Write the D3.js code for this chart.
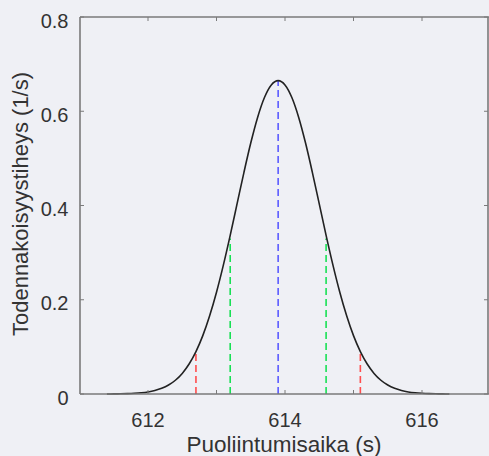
<!DOCTYPE html>
<html>
<head>
<meta charset="utf-8">
<script src="https://cdn.jsdelivr.net/npm/d3@7"></script>
<style>
  html, body { margin: 0; padding: 0; background: #eff0f5; }
  svg { display: block; font-family: "Liberation Sans", Arial, sans-serif; }
</style>
</head>
<body>
<svg id="chart" width="489" height="456"></svg>
<script>
// Curve samples (time in s, density in 1/s)
const curveX = [611.4,611.5,611.6,611.7,611.8,611.9,612.0,612.1,612.2,612.3,612.4,612.5,612.6,612.7,612.8,612.9,613.0,613.1,613.2,613.3,613.4,613.5,613.6,613.7,613.8,613.9,614.0,614.1,614.2,614.3,614.4,614.5,614.6,614.7,614.8,614.9,615.0,615.1,615.2,615.3,615.4,615.5,615.6,615.7,615.8,615.9,616.0,616.1,616.2,616.3,616.4];
const curveY = [0.0001,0.0002,0.0004,0.0008,0.0015,0.0026,0.0044,0.0074,0.0120,0.0190,0.0292,0.0437,0.0636,0.0900,0.1238,0.1659,0.2159,0.2734,0.3367,0.4033,0.4699,0.5325,0.5869,0.6291,0.6558,0.6650,0.6558,0.6291,0.5869,0.5325,0.4699,0.4033,0.3367,0.2734,0.2159,0.1659,0.1238,0.0900,0.0636,0.0437,0.0292,0.0190,0.0120,0.0074,0.0044,0.0026,0.0015,0.0008,0.0004,0.0002,0.0001];

// Dashed marker lines
const markerX = [612.7, 613.2, 613.9, 614.6, 615.1];
const markerY = [0.090, 0.330, 0.665, 0.330, 0.090];
const markerColor = ["#ff4d4d", "#19e055", "#5b5bff", "#19e055", "#ff4d4d"];

const xTicks = [612, 613, 614, 615, 616];
const xTickLabels = ["612", "", "614", "", "616"];
const yTicks = [0, 0.2, 0.4, 0.6, 0.8];
const yTickLabels = ["0", "0.2", "0.4", "0.6", "0.8"];

const xLabel = "Puoliintumisaika (s)";
const yLabel = "Todennakoisyystiheys (1/s)";

const svg = d3.select("#chart");
const pL = 80, pR = 488, pT = 17, pB = 394;

const x = d3.scaleLinear().domain([611, 617]).range([79.5, 490.5]);
const y = d3.scaleLinear().domain([0, 0.8]).range([pB, pT]);

const axisColor = "#7a7a7a";
const textColor = "#333";

// markers
svg.append("g").selectAll("line")
  .data(markerX)
  .join("line")
  .attr("x1", d => x(d)).attr("x2", d => x(d))
  .attr("y1", y(0)).attr("y2", (d, i) => y(markerY[i]))
  .attr("stroke", (d, i) => markerColor[i])
  .attr("stroke-width", 1.6)
  .attr("stroke-dasharray", "7,4");

// curve
const pts = curveX.map((d, i) => [d, curveY[i]]);
svg.append("path")
  .datum(pts)
  .attr("fill", "none")
  .attr("stroke", "#222")
  .attr("stroke-width", 1.6)
  .attr("d", d3.line().x(d => x(d[0])).y(d => y(d[1])).curve(d3.curveMonotoneX));

// box frame
const frame = svg.append("g").attr("stroke", axisColor).attr("stroke-width", 1.6);
frame.append("line").attr("x1", pL).attr("x2", pR + 10).attr("y1", pT).attr("y2", pT);
frame.append("line").attr("x1", pL).attr("x2", pR + 10).attr("y1", pB).attr("y2", pB);
frame.append("line").attr("x1", pL).attr("x2", pL).attr("y1", pT).attr("y2", pB);
frame.append("line").attr("x1", pR).attr("x2", pR).attr("y1", pT).attr("y2", pB);

// x ticks
const tl = 4;
const xt = svg.append("g");
xt.selectAll("line.b").data(xTicks).join("line")
  .attr("x1", d => x(d)).attr("x2", d => x(d))
  .attr("y1", pB).attr("y2", pB - tl)
  .attr("stroke", axisColor).attr("stroke-width", 1);
xt.selectAll("line.t").data(xTicks).join("line")
  .attr("x1", d => x(d)).attr("x2", d => x(d))
  .attr("y1", pT).attr("y2", pT + tl)
  .attr("stroke", axisColor).attr("stroke-width", 1);
xt.selectAll("text").data(xTicks).join("text")
  .attr("x", d => x(d)).attr("y", 427)
  .attr("text-anchor", "middle")
  .attr("font-size", 20)
  .attr("fill", textColor)
  .text((d, i) => xTickLabels[i]);

// y ticks
const yt = svg.append("g");
yt.selectAll("line.l").data(yTicks).join("line")
  .attr("x1", pL).attr("x2", pL + tl)
  .attr("y1", d => y(d)).attr("y2", d => y(d))
  .attr("stroke", axisColor).attr("stroke-width", 1);
yt.selectAll("line.r").data(yTicks).join("line")
  .attr("x1", pR).attr("x2", pR - tl)
  .attr("y1", d => y(d)).attr("y2", d => y(d))
  .attr("stroke", axisColor).attr("stroke-width", 1);
yt.selectAll("text").data(yTicks).join("text")
  .attr("x", 68.5).attr("y", d => y(d) + 10.5)
  .attr("text-anchor", "end")
  .attr("font-size", 20)
  .attr("fill", textColor)
  .text((d, i) => yTickLabels[i]);

// labels
svg.append("text")
  .attr("x", 284).attr("y", 452)
  .attr("text-anchor", "middle")
  .attr("font-size", 22.5)
  .attr("fill", textColor)
  .text(xLabel);

svg.append("text")
  .attr("transform", `translate(28,204) rotate(-90)`)
  .attr("text-anchor", "middle")
  .attr("font-size", 22)
  .attr("fill", textColor)
  .text(yLabel);
</script>
</body>
</html>
